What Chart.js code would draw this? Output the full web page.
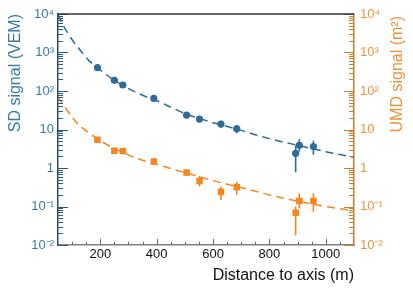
<!DOCTYPE html>
<html><head><meta charset="utf-8">
<script src="https://cdn.jsdelivr.net/npm/chart.js@4/dist/chart.umd.min.js"></script>
<style>html,body{margin:0;padding:0;background:#fff}#wrap{width:413px;height:292px;position:relative}</style>
</head><body><div id="wrap"><canvas id="c"></canvas></div>
<script>
// ---- data ----
const distance   = [190, 250, 280, 390, 506, 552, 628, 684, 893, 906, 956];
const sdSignal   = [405, 189, 143, 64, 23.7, 18.7, 13.8, 10.4, 2.4, 3.9, 3.6];
const sdErrLow   = [370, 172, 130, 58, 20.5, 15.5, 11, 8, 0.78, 2.7, 2.2];
const sdErrHigh  = [440, 207, 157, 70, 27, 22, 16.8, 13, 3.8, 5.6, 5.1];
const umdSignal  = [5.4, 2.8, 2.75, 1.47, 0.76, 0.46, 0.24, 0.32, 0.069, 0.139, 0.139];
const umdErrLow  = [4.9, 2.55, 2.5, 1.2, 0.62, 0.33, 0.148, 0.2, 0.018, 0.089, 0.073];
const umdErrHigh = [5.9, 3.05, 3.0, 1.8, 0.93, 0.62, 0.33, 0.44, 0.1, 0.22, 0.22];

const fitDistance = [50, 65, 82, 100, 120, 140, 160, 190, 220, 250, 280, 320, 360, 400, 450, 500, 550, 600, 650, 700, 750, 800, 850, 900, 950, 1000, 1050, 1100];
const sdFit  = [9800, 5600, 3450, 2150, 1400, 900, 615, 400, 270, 190, 140, 98, 72, 56, 38, 26, 19.5, 15, 12, 9.5, 7.3, 5.8, 4.7, 3.9, 3.2, 2.65, 2.25, 1.9];
const umdFit = [72, 48, 32, 21, 14, 10.5, 8.1, 5.7, 4.2, 3.2, 2.55, 1.9, 1.5, 1.25, 0.97, 0.76, 0.6, 0.47, 0.38, 0.31, 0.25, 0.2, 0.165, 0.138, 0.117, 0.1, 0.088, 0.079];

const xTickValues = [200, 400, 600, 800, 1000];
const xTickLabels = ['200', '400', '600', '800', '1000'];
const yTickValues = [0.01, 0.1, 1, 10, 100, 1000, 10000];
const yTickLabels = ['10⁻²', '10⁻¹', '1', '10', '10²', '10³', '10⁴'];

const SD_COLOR = '#2d6c97';
const SD_TEXT = '#3b7aa6';
const UMD_COLOR = '#f7861f';
const UMD_TEXT = '#f2913a';
const FONT = 'Liberation Sans, Arial, sans-serif';

const pts = (xs, ys) => xs.map((x, i) => ({x: x, y: ys[i]}));

const decor = {
  id: 'decor',
  beforeDatasetsDraw(chart) {
    const ctx = chart.ctx, a = chart.chartArea;
    const sets = [[0, sdErrLow, sdErrHigh, SD_COLOR], [1, umdErrLow, umdErrHigh, UMD_COLOR]];
    ctx.save();
    ctx.beginPath(); ctx.rect(a.left, a.top, a.right - a.left, a.bottom - a.top); ctx.clip();
    ctx.lineWidth = 1.6;
    for (const [di, lo, hi, col] of sets) {
      const meta = chart.getDatasetMeta(di);
      ctx.strokeStyle = col;
      ctx.beginPath();
      distance.forEach((d, j) => {
        const x = meta.xScale.getPixelForValue(d);
        ctx.moveTo(x, meta.yScale.getPixelForValue(lo[j]));
        ctx.lineTo(x, meta.yScale.getPixelForValue(hi[j]));
      });
      ctx.stroke();
    }
    ctx.restore();
  },
  afterDraw(chart) {
    const ctx = chart.ctx, a = chart.chartArea;
    const xs = chart.scales.x, yl = chart.scales.y, yr = chart.scales.y2;
    ctx.save();
    // y ticks (inside)
    const drawY = (scale, x0, dir, col) => {
      ctx.strokeStyle = col; ctx.lineWidth = 1;
      ctx.beginPath();
      for (let n = -2; n <= 4; n++) {
        const dec = yTickValues[n + 2];
        const y = Math.round(scale.getPixelForValue(dec)) + 0.5;
        ctx.moveTo(x0, y); ctx.lineTo(x0 + dir * 10, y);
        if (n < 4) for (let k = 2; k <= 9; k++) {
          const ym = Math.round(scale.getPixelForValue(k * dec)) + 0.5;
          ctx.moveTo(x0, ym); ctx.lineTo(x0 + dir * 5, ym);
        }
      }
      ctx.stroke();
    };
    drawY(yl, a.left, 1, '#2a5c80');
    drawY(yr, a.right, -1, '#cf7e2c');
    // x ticks
    ctx.strokeStyle = '#666'; ctx.lineWidth = 1;
    ctx.beginPath();
    for (let v = 100; v <= 1050; v += 50) {
      const x = Math.round(xs.getPixelForValue(v)) + 0.5;
      const len = xTickValues.includes(v) ? 6 : 3;
      ctx.moveTo(x, a.bottom); ctx.lineTo(x, a.bottom - len);
    }
    ctx.stroke();
    // top frame
    ctx.strokeStyle = '#333'; ctx.lineWidth = 1.5;
    ctx.beginPath(); ctx.moveTo(a.left, a.top); ctx.lineTo(a.right, a.top); ctx.stroke();
    // right axis title
    ctx.fillStyle = UMD_TEXT;
    ctx.font = '16px ' + FONT;
    ctx.translate(398, a.top + 2);
    ctx.rotate(-Math.PI / 2);
    ctx.textAlign = 'right'; ctx.textBaseline = 'middle';
    ctx.fillText('UMD signal (m²)', 0, 0);
    ctx.restore();
  }
};

new Chart(document.getElementById('c'), {
  data: {
    datasets: [
      {type: 'scatter', label: 'SD', data: pts(distance, sdSignal), yAxisID: 'y',
       backgroundColor: SD_COLOR, borderColor: SD_COLOR, pointStyle: 'circle', pointRadius: 3.6, borderWidth: 0, order: 0},
      {type: 'scatter', label: 'UMD', data: pts(distance, umdSignal), yAxisID: 'y2',
       backgroundColor: UMD_COLOR, borderColor: UMD_COLOR, pointStyle: 'rect', pointRadius: 4.6, borderWidth: 0, order: 0},
      {type: 'line', label: 'SD fit', data: pts(fitDistance, sdFit), yAxisID: 'y',
       borderColor: SD_COLOR, borderWidth: 1.5, borderDash: [8, 5], pointRadius: 0, cubicInterpolationMode: 'monotone', fill: false, order: 2},
      {type: 'line', label: 'UMD fit', data: pts(fitDistance, umdFit), yAxisID: 'y2',
       borderColor: UMD_COLOR, borderWidth: 1.5, borderDash: [8, 5], pointRadius: 0, cubicInterpolationMode: 'monotone', fill: false, order: 2}
    ]
  },
  options: {
    responsive: true, maintainAspectRatio: false, animation: false, devicePixelRatio: 1,
    layout: {padding: {top: 14, left: 0, right: 0, bottom: 0}},
    plugins: {legend: {display: false}, tooltip: {enabled: false}},
    scales: {
      x: {
        type: 'linear', position: 'bottom', min: 50, max: 1100,
        afterBuildTicks: s => { s.ticks = xTickValues.map(v => ({value: v})); },
        afterFit: s => { s.height = 47; },
        grid: {display: false, drawTicks: false},
        border: {display: true, color: '#808080', width: 1.5},
        ticks: {autoSkip: false, maxRotation: 0, padding: 2, color: '#111', font: {family: FONT, size: 13},
                callback: (v, i) => xTickLabels[i]},
        title: {display: true, text: 'Distance to axis (m)', align: 'end', color: '#111',
                font: {family: FONT, size: 16}, padding: {top: 0, bottom: 7}}
      },
      y: {
        type: 'logarithmic', position: 'left', min: 0.01, max: 10000,
        afterBuildTicks: s => { s.ticks = yTickValues.map(v => ({value: v})); },
        afterFit: s => { s.width = 58; },
        grid: {display: false, drawTicks: false},
        border: {display: true, color: '#244f70', width: 1.5},
        ticks: {autoSkip: false, padding: 4, color: SD_TEXT, font: {family: FONT, size: 13},
                callback: (v, i) => yTickLabels[i]},
        title: {display: true, text: 'SD signal (VEM)', align: 'end', color: SD_TEXT,
                font: {family: FONT, size: 16}, padding: {top: 6, bottom: 0}}
      },
      y2: {
        type: 'logarithmic', position: 'right', min: 0.01, max: 10000,
        afterBuildTicks: s => { s.ticks = yTickValues.map(v => ({value: v})); },
        afterFit: s => { s.width = 59; },
        grid: {display: false, drawTicks: false},
        border: {display: true, color: '#cc7a2a', width: 1.5},
        ticks: {autoSkip: false, padding: 6, color: UMD_TEXT, font: {family: FONT, size: 13},
                callback: (v, i) => yTickLabels[i]},
        title: {display: false}
      }
    }
  },
  plugins: [decor]
});
</script>
</body></html>
